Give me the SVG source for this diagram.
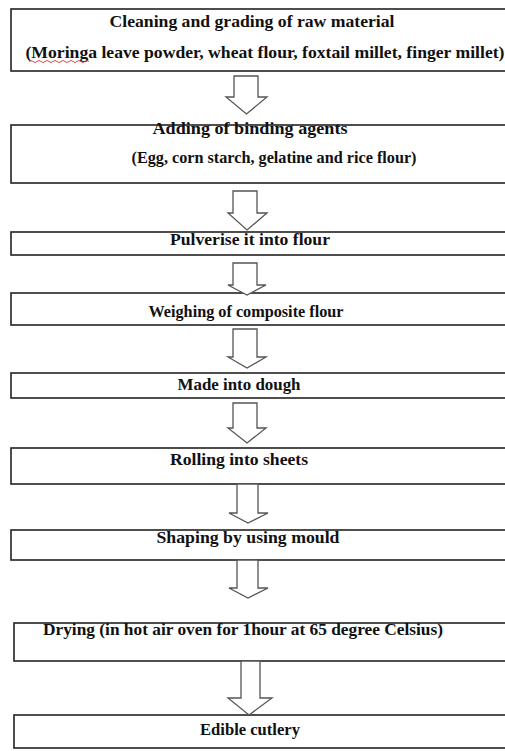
<svg xmlns="http://www.w3.org/2000/svg" width="505" height="751" viewBox="0 0 505 751">
<style>
.box{fill:#fff;stroke:#222;stroke-width:1.6}
.t{font-family:"Liberation Serif","Times New Roman",serif;font-weight:bold;font-size:17px;fill:#111;text-anchor:middle}
.arr{fill:#fff;stroke:#555;stroke-width:1.3;stroke-linejoin:miter}
</style>
<rect width="505" height="751" fill="#fff"/>
<g id="n1"><rect class="box" x="11" y="9" width="500" height="62"/>
<text class="t" x="252" y="27" textLength="285" lengthAdjust="spacingAndGlyphs">Cleaning and grading of raw material</text>
<text class="t" x="265" y="58" textLength="479" lengthAdjust="spacingAndGlyphs">(Moringa leave powder, wheat flour, foxtail millet, finger millet)</text>
<path d="M29 61.5 q2 -2 4 0 t4 0 t4 0 t4 0 t4 0 t4 0 t4 0 t4 0 t4 0 t4 0 t4 0 t4 0 t4 0 t4 0 t4 0" fill="none" stroke="#d33" stroke-width="0.9"/></g>
<g id="n2"><rect class="box" x="11" y="125" width="500" height="58"/>
<text class="t" x="250" y="134" textLength="195" lengthAdjust="spacingAndGlyphs">Adding of binding agents</text>
<text class="t" x="274" y="163" textLength="285" lengthAdjust="spacingAndGlyphs">(Egg, corn starch, gelatine and rice flour)</text></g>
<g id="n3"><rect class="box" x="11" y="232" width="500" height="23"/>
<text class="t" x="250" y="245" textLength="160" lengthAdjust="spacingAndGlyphs">Pulverise it into flour</text></g>
<g id="n4"><rect class="box" x="11" y="293" width="500" height="32"/>
<text class="t" x="246" y="317" textLength="195" lengthAdjust="spacingAndGlyphs">Weighing of composite flour</text></g>
<g id="n5"><rect class="box" x="11" y="373" width="500" height="25"/>
<text class="t" x="239" y="390" textLength="123" lengthAdjust="spacingAndGlyphs">Made into dough</text></g>
<g id="n6"><rect class="box" x="11" y="448" width="500" height="36"/>
<text class="t" x="239" y="465" textLength="138" lengthAdjust="spacingAndGlyphs">Rolling into sheets</text></g>
<g id="n7"><rect class="box" x="11" y="530" width="500" height="30"/>
<text class="t" x="248" y="543" textLength="183" lengthAdjust="spacingAndGlyphs">Shaping by using mould</text></g>
<g id="n8"><rect class="box" x="14" y="623" width="497" height="38"/>
<text class="t" x="243" y="635" textLength="400" lengthAdjust="spacingAndGlyphs">Drying (in hot air oven for 1hour at 65 degree Celsius)</text></g>
<g id="n9"><rect class="box" x="14" y="715" width="497" height="33"/>
<text class="t" x="250" y="735" textLength="100" lengthAdjust="spacingAndGlyphs">Edible cutlery</text></g>
<g id="connectors">
<path class="arr" d="M234 76 H258 V97 H267 L246.5 114 L226 97 H234 Z"/>
<path class="arr" d="M233 191 H257 V213 H267 L247 230 L228 213 H233 Z"/>
<path class="arr" d="M233 263 H257 V285 H266 L247 295 L228 285 H233 Z"/>
<path class="arr" d="M233 329 H257 V357 H266 L247 368 L228 357 H233 Z"/>
<path class="arr" d="M233 403 H257 V428 H266 L247 443 L228 428 H233 Z"/>
<path class="arr" d="M237 484 H258 V513 H268 L248 523 L229 513 H237 Z"/>
<path class="arr" d="M237 560 H258 V588 H268 L248 598 L229 588 H237 Z"/>
<path class="arr" d="M241 661 H260 V698 H272 L249 715 L228 698 H241 Z"/>
</g>
</svg>
